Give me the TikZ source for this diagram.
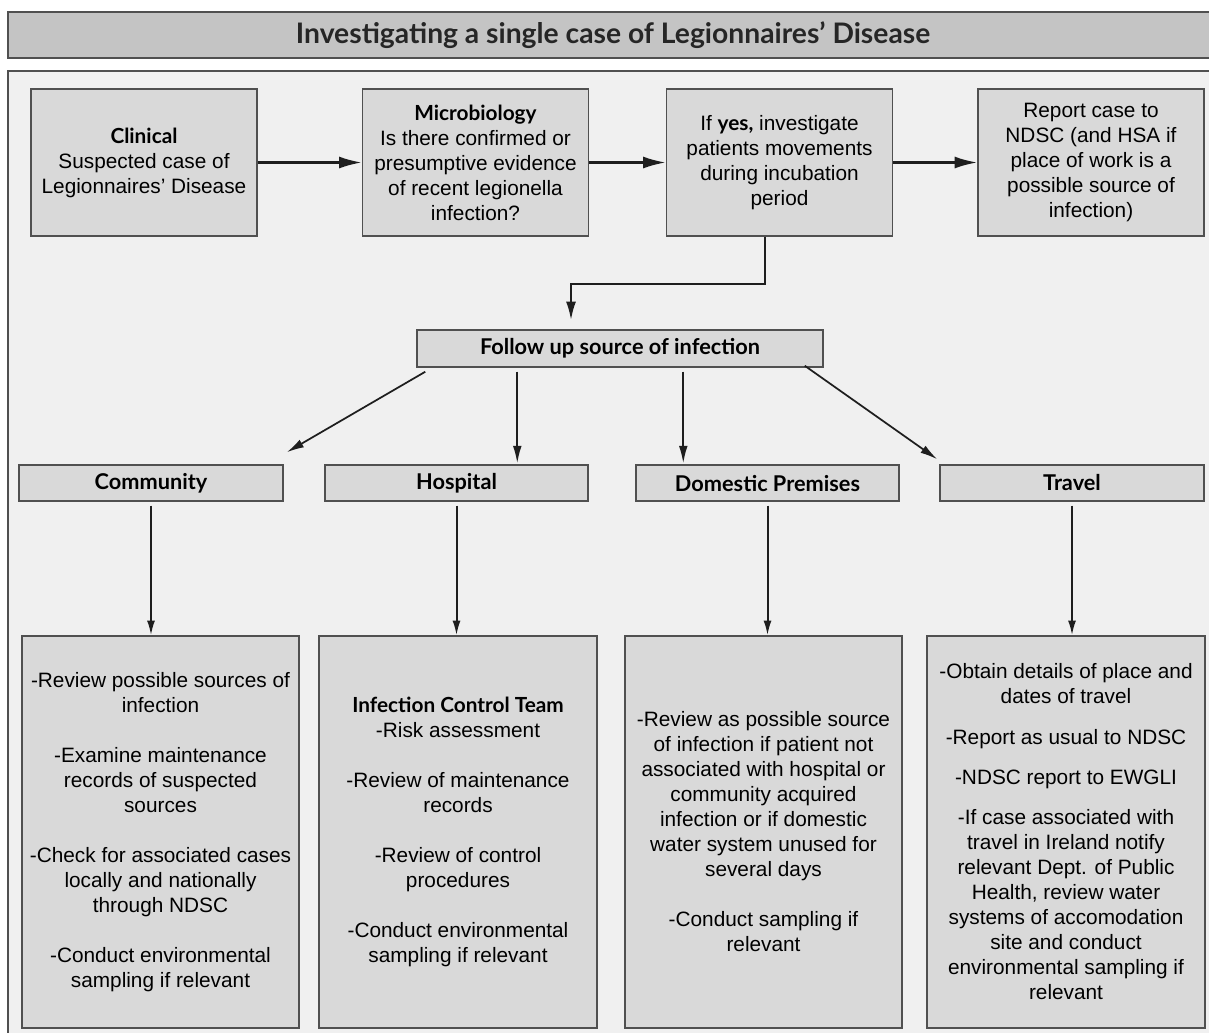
\documentclass[tikz,border=0pt]{standalone}
\usepackage{fontspec}
\setmainfont{Liberation Sans}
\newfontfamily\kopf{Lato}
\usetikzlibrary{arrows.meta,calc}
\definecolor{titelgrau}{RGB}{196,196,196}
\definecolor{hintergrund}{RGB}{240,240,240}
\definecolor{kastengrau}{RGB}{217,217,217}
\definecolor{rahmen}{RGB}{80,80,80}
\definecolor{pfeilfarbe}{RGB}{30,30,30}
\newcommand{\fett}[1]{{\kopf\bfseries #1}}
\newlength{\pix}
\setlength{\pix}{0.75pt}

\tikzset{
  kasten/.style={draw=rahmen, fill=kastengrau, line width=1.1pt, align=center, inner sep=1pt,
    font=\fontsize{15.6}{18.75}\selectfont},
  obenkasten/.style={kasten, minimum width=226\pix, minimum height=147\pix},
  kategorie/.style={kasten, minimum width=263\pix, minimum height=36\pix,
    font=\kopf\bfseries\fontsize{16.3}{19}\selectfont},
  listenkasten/.style={kasten, minimum width=277\pix, minimum height=392\pix},
  pfeil/.style={-{Latex[length=17pt,width=9pt]}, line width=1.8pt, pfeilfarbe},
  duennpfeil/.style={-{Latex[length=13pt,width=6.5pt]}, line width=1.3pt, pfeilfarbe},
  listenpfeil/.style={-{Latex[length=11pt,width=6pt]}, line width=1.5pt, pfeilfarbe, shorten <=3pt}
}

\begin{document}
\begin{tikzpicture}[x=0.75pt, y=-0.75pt]
    % Seitenrahmen
    \useasboundingbox (0,0) rectangle (1209,1032);
    \clip (0,0) rectangle (1209,1032);

    % Titelleiste
    \draw[rahmen, fill=titelgrau, line width=1.1pt] (8,12) rectangle (1230,58);
    \node[font=\kopf\bfseries\fontsize{21.2}{25}\selectfont, text=black!85] (titel) at (613,35) {Investigating a single case of Legionnaires’ Disease};

    % Hintergrundflaeche
    \fill[hintergrund] (8,71) rectangle (1230,1050);
    \draw[rahmen, line width=1.1pt] (1230,71) -- (8,71) -- (8,1050);

    % Obere Reihe
    \node[obenkasten] (clinical) at (144,162.5) {\fett{Clinical}\\Suspected case of\\Legionnaires’ Disease};
    \node[obenkasten] (micro) at (475.5,162.5) {\fett{Microbiology}\\Is there confirmed or\\presumptive evidence\\of recent legionella\\infection?};
    \node[obenkasten] (ifyes) at (779.5,162.5) {If \fett{yes,} investigate\\patients movements\\during incubation\\period};
    \node[obenkasten] (report) at (1091,162.5) {Report case to\\NDSC (and HSA if\\place of work is a\\possible source of\\infection)};

    \draw[pfeil] (clinical) -- (micro);
    \draw[pfeil] (micro) -- (ifyes);
    \draw[pfeil] (ifyes) -- (report);

    % Quelle der Infektion
    \node[kategorie, minimum width=406\pix, minimum height=37\pix] (followup) at (620,348.5) {Follow up source of infection};
    \coordinate (knick) at (765,284);
    \draw[pfeil, -{Latex[length=14pt,width=7.5pt]}] (ifyes.south -| knick) -- (knick) -| ($(followup.north)+(-49,-9)$);

    % Kategorien
    \node[kategorie, minimum width=264\pix] (community) at (151,483) {Community};
    \node[kategorie] (hospital) at (456.5,483) {Hospital};
    \node[kategorie] (domestic) at (767.5,483) {Domestic Premises};
    \node[kategorie, minimum width=264\pix] (travel) at (1072,483) {Travel};

    \coordinate (f2) at ($(followup.south west)+(101,4)$);
    \coordinate (f3) at ($(followup.south west)+(267,4)$);
    \draw[duennpfeil] ($(followup.south west)+(9,4)$) -- ($(community.north east)+(3,-12)$);
    \draw[duennpfeil] (f2) -- ($(f2 |- hospital.north)+(0,-1)$);
    \draw[duennpfeil] (f3) -- ($(f3 |- domestic.north)+(0,-1)$);
    \draw[duennpfeil] ($(followup.south east)+(-19,-2)$) -- ($(travel.north west)+(-2,-5)$);

    % Massnahmen
    \node[listenkasten] (commliste) at (160.5,832) {-Review possible sources of\\infection\\[18.75pt]
      -Examine maintenance\\records of suspected\\sources\\[18.75pt]
      -Check for associated cases\\locally and nationally\\through NDSC\\[18.75pt]
      -Conduct environmental\\sampling if relevant};
    \node[listenkasten, minimum width=278\pix] (hospliste) at (458,832) {\fett{Infection Control Team}\\-Risk assessment\\[18.75pt]
      -Review of maintenance\\records\\[18.75pt]
      -Review of control\\procedures\\[18.75pt]
      -Conduct environmental\\sampling if relevant};
    \node[listenkasten] (domliste) at (763.5,832) {-Review as possible source\\of infection if patient not\\associated with hospital or\\community acquired\\infection or if domestic\\water system unused for\\several days\\[18.75pt]
      -Conduct sampling if\\relevant};
    \node[listenkasten, minimum width=278\pix] (travliste) at (1066,832) {-Obtain details of place and\\dates of travel\\[11.5pt]
      -Report as usual to NDSC\\[11.5pt]
      -NDSC report to EWGLI\\[11.5pt]
      -If case associated with\\travel in Ireland notify\\relevant Dept. of Public\\Health, review water\\systems of accomodation\\site and conduct\\environmental sampling if\\relevant};

    \draw[listenpfeil] (community.south) -- (community.south |- commliste.north);
    \draw[listenpfeil] (hospital.south) -- (hospital.south |- hospliste.north);
    \draw[listenpfeil] (domestic.south) -- (domestic.south |- domliste.north);
    \draw[listenpfeil] (travel.south) -- (travel.south |- travliste.north);
\end{tikzpicture}
\end{document}
